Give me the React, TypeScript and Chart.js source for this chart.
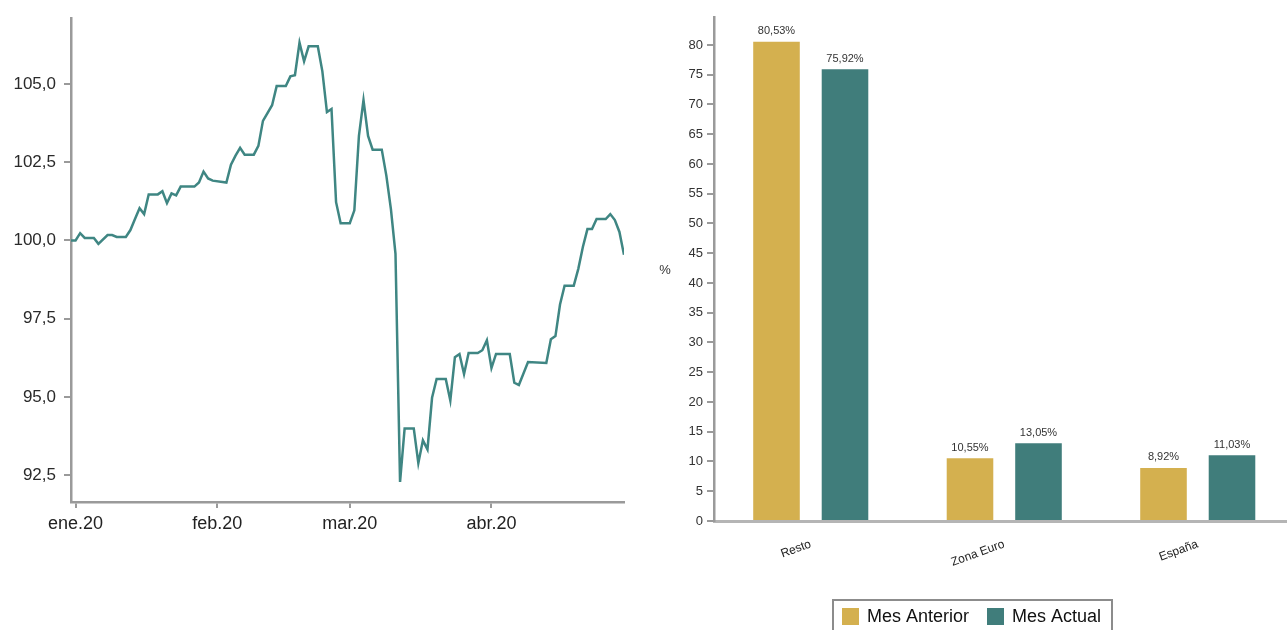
import React, { useEffect, useRef } from "react";
import { Chart, registerables } from "chart.js";

Chart.register(...registerables);

// ---------- Left chart data (index, days since 1 Jan 2020) ----------
const lineDays = [-1, 0, 1, 2, 4, 5, 7, 8, 9, 11, 12, 13, 14, 15, 16, 18, 19, 20, 21, 22, 23, 26, 27, 28, 29, 30, 33, 34, 35, 36, 37, 39, 40, 41, 43, 44, 46, 47, 48, 49, 50, 51, 53, 54, 55, 56, 57, 58, 60, 61, 62, 63, 64, 65, 67, 68, 69, 70, 71, 72, 74, 75, 76, 77, 78, 79, 81, 82, 83, 84, 85, 86, 88, 89, 90, 91, 92, 95, 96, 97, 99, 103, 104, 105, 106, 107, 109, 110, 111, 112, 113, 114, 116, 117, 118, 119, 120];
const lineValues = [100.0, 100.0, 100.23, 100.08, 100.08, 99.89, 100.17, 100.17, 100.11, 100.11, 100.33, 100.68, 101.03, 100.84, 101.47, 101.47, 101.57, 101.19, 101.5, 101.44, 101.72, 101.72, 101.85, 102.2, 101.98, 101.91, 101.85, 102.42, 102.71, 102.96, 102.74, 102.74, 103.02, 103.82, 104.32, 104.93, 104.93, 105.24, 105.28, 106.32, 105.72, 106.2, 106.2, 105.4, 104.1, 104.2, 101.22, 100.55, 100.55, 100.96, 103.34, 104.48, 103.34, 102.9, 102.9, 102.07, 101.0, 99.57, 92.28, 93.99, 93.99, 92.88, 93.61, 93.32, 94.97, 95.57, 95.57, 94.88, 96.27, 96.37, 95.73, 96.4, 96.4, 96.49, 96.81, 95.92, 96.37, 96.37, 95.45, 95.38, 96.11, 96.08, 96.84, 96.94, 97.95, 98.55, 98.55, 99.09, 99.79, 100.36, 100.36, 100.68, 100.68, 100.84, 100.65, 100.27, 99.54];
const monthTickDays = [0, 31, 60, 91];
const monthTickLabels = ["ene.20", "feb.20", "mar.20", "abr.20"];
const lineYTicks = [92.5, 95, 97.5, 100, 102.5, 105];

// ---------- Right chart data ----------
const barCategories = ["Resto", "Zona Euro", "España"];
const mesAnterior = [80.53, 10.55, 8.92];
const mesActual = [75.92, 13.05, 11.03];
const seriesNames = ["Mes Anterior", "Mes Actual"];
const barYTicks = [0, 5, 10, 15, 20, 25, 30, 35, 40, 45, 50, 55, 60, 65, 70, 75, 80];

const FONT = "'Liberation Sans', Arial, Helvetica, sans-serif";
const GOLD = "#d4b04f";
const TEAL = "#407d7b";
const LINE = "#3f8683";
const AXIS = "#9a9a9a";

const fmtComma = (v: number, d: number) => v.toFixed(d).replace(".", ",");

export default function App() {
  const leftRef = useRef<HTMLCanvasElement>(null);
  const rightRef = useRef<HTMLCanvasElement>(null);

  useEffect(() => {
    const left = new Chart(leftRef.current!, {
      type: "line",
      data: {
        datasets: [
          {
            data: lineDays.map((d, i) => ({ x: d, y: lineValues[i] })),
            borderColor: LINE,
            borderWidth: 2.5,
            pointRadius: 0,
            tension: 0,
            fill: false,
          },
        ],
      },
      options: {
        animation: false,
        responsive: false,
        maintainAspectRatio: false,
        layout: { padding: { top: 15, right: 16, left: 0, bottom: 0 } },
        plugins: { legend: { display: false }, tooltip: { enabled: false } },
        scales: {
          x: {
            type: "linear",
            min: -1,
            max: 120,
            afterBuildTicks: (s: any) => {
              s.ticks = monthTickDays.map((v) => ({ value: v }));
            },
            afterFit: (s: any) => {
              s.height = 58;
            },
            ticks: {
              autoSkip: false,
              maxRotation: 0,
              padding: 5,
              color: "#222",
              font: { family: FONT, size: 18 },
              callback: (v: any) => {
                const i = monthTickDays.indexOf(Number(v));
                return i >= 0 ? monthTickLabels[i] : "";
              },
            },
            grid: { drawOnChartArea: false, drawTicks: true, tickLength: 6, color: AXIS, lineWidth: 2 },
            border: { color: AXIS, width: 2.5 },
          },
          y: {
            min: 91.64,
            max: 107.1,
            afterBuildTicks: (s: any) => {
              s.ticks = lineYTicks.map((v) => ({ value: v }));
            },
            afterFit: (s: any) => {
              s.width = 71;
            },
            ticks: {
              padding: 8,
              color: "#2a2a2a",
              font: { family: FONT, size: 17 },
              callback: (v: any) => fmtComma(Number(v), 1),
            },
            grid: { drawOnChartArea: false, drawTicks: true, tickLength: 7, color: AXIS, lineWidth: 2 },
            border: { color: AXIS, width: 2.5 },
          },
        },
      },
    } as any);

    const barLabels = {
      id: "barLabels",
      afterDatasetsDraw(chart: any) {
        const ctx = chart.ctx;
        ctx.save();
        ctx.font = `11px ${FONT}`;
        ctx.fillStyle = "#333";
        ctx.textAlign = "center";
        ctx.textBaseline = "bottom";
        chart.data.datasets.forEach((ds: any, di: number) => {
          const meta = chart.getDatasetMeta(di);
          meta.data.forEach((el: any, i: number) => {
            ctx.fillText(fmtComma(ds.data[i], 2) + "%", el.x, el.y - 5);
          });
        });
        ctx.restore();
      },
      afterDraw(chart: any) {
        const ctx = chart.ctx;
        ctx.save();
        // y-axis unit
        ctx.font = `13px ${FONT}`;
        ctx.fillStyle = "#333";
        ctx.textAlign = "center";
        ctx.textBaseline = "middle";
        ctx.fillText("%", 25, 270);
        // legend box
        const bx = 193, by = 600, bw = 279;
        ctx.strokeStyle = "#8c8c8c";
        ctx.lineWidth = 2;
        ctx.strokeRect(bx, by, bw, 60);
        const itemX = [202, 347];
        ctx.font = `18px ${FONT}`;
        ctx.textAlign = "left";
        chart.data.datasets.forEach((ds: any, i: number) => {
          ctx.fillStyle = ds.backgroundColor;
          ctx.fillRect(itemX[i], 608, 17, 17);
          ctx.fillStyle = "#111";
          ctx.fillText(ds.label, itemX[i] + 25, 617);
        });
        ctx.restore();
      },
    };

    const right = new Chart(rightRef.current!, {
      type: "bar",
      data: {
        labels: barCategories,
        datasets: [
          { label: seriesNames[0], data: mesAnterior, backgroundColor: GOLD },
          { label: seriesNames[1], data: mesActual, backgroundColor: TEAL },
        ],
      },
      options: {
        animation: false,
        responsive: false,
        maintainAspectRatio: false,
        categoryPercentage: 0.708,
        barPercentage: 0.68,
        layout: { padding: { top: 17, right: 5.5, left: 0, bottom: 0 } },
        plugins: { legend: { display: false }, tooltip: { enabled: false } },
        scales: {
          x: {
            afterFit: (s: any) => {
              s.height = 109;
            },
            ticks: {
              minRotation: 20,
              maxRotation: 20,
              padding: 8,
              color: "#222",
              font: { family: FONT, size: 12 },
            },
            grid: { display: false },
            border: { color: "#b5b5b5", width: 3, dash: [7, 3] },
          },
          y: {
            min: 0,
            max: 84.7,
            afterBuildTicks: (s: any) => {
              s.ticks = barYTicks.map((v) => ({ value: v }));
            },
            afterFit: (s: any) => {
              s.width = 74;
            },
            ticks: {
              padding: 4,
              color: "#333",
              font: { family: FONT, size: 13 },
            },
            grid: { drawOnChartArea: false, drawTicks: true, tickLength: 7, color: AXIS, lineWidth: 2 },
            border: { color: AXIS, width: 2.5 },
          },
        },
      },
      plugins: [barLabels],
    } as any);

    return () => {
      left.destroy();
      right.destroy();
    };
  }, []);

  return (
    <div style={{ position: "fixed", left: 0, top: 0, width: 1287, height: 630, overflow: "hidden", background: "#fff" }}>
      <canvas ref={leftRef} width={640} height={560} style={{ position: "absolute", left: 0, top: 0 }} />
      <canvas ref={rightRef} width={660} height={630} style={{ position: "absolute", left: 640, top: 0 }} />
    </div>
  );
}
